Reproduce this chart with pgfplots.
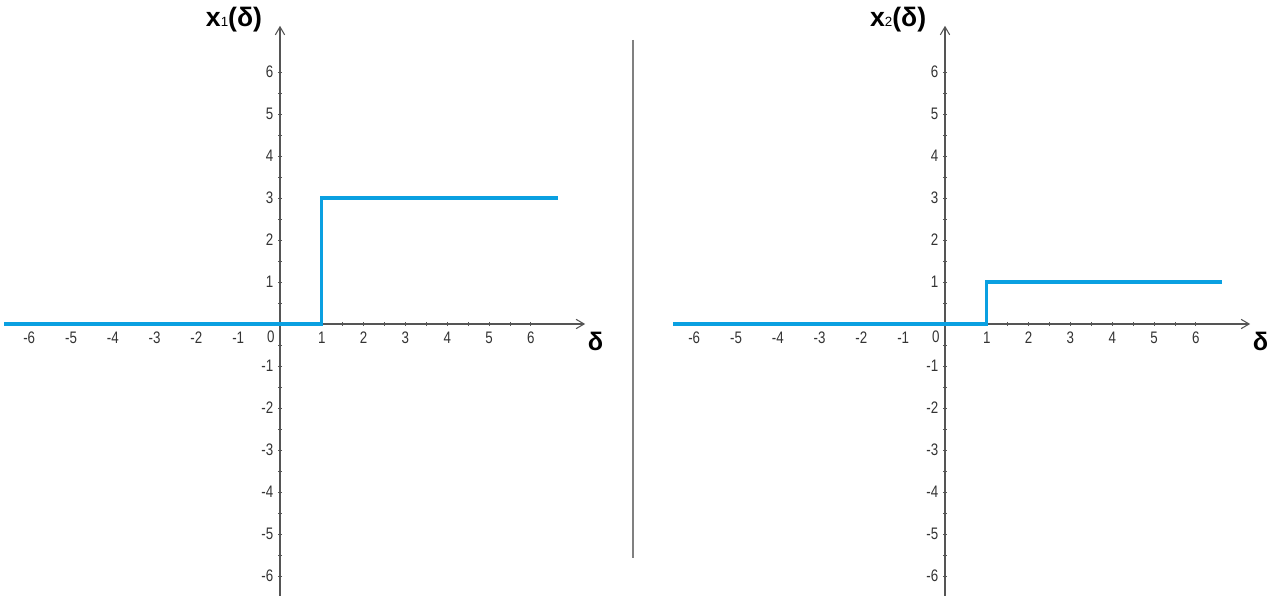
\documentclass[border=0pt]{standalone}
\usepackage{fontspec}
\setmainfont{Liberation Sans}
\newfontfamily\narrow[FakeStretch=0.8]{Liberation Sans}
\usepackage{pgfplots}
\pgfplotsset{compat=1.18}
\usetikzlibrary{arrows.meta}
\definecolor{lineblue}{RGB}{10,160,225}
\definecolor{axgray}{RGB}{85,85,85}
\pgfplotsset{
 myaxis/.style={
  axis lines=middle,
  x=31.35pt, y=31.5pt,
  anchor=origin,
  ymin=-6.5, ymax=7.1,
  xtick={-6,...,6}, ytick={-6,...,6},
  minor tick num=1,
  axis line style={axgray, line width=0.8pt, -{Straight Barb[length=6pt,width=7pt]}},
  tick style={axgray, line width=0.6pt},
  major tick length=3pt, minor tick length=3pt,
  tick label style={font=\narrow\fontsize{12.5}{14}\selectfont, text=black!80},
  xticklabel style={yshift=-1pt},
  /pgf/number format/assume math mode=true,
  clip=false,
 }
}
\begin{document}
\begin{tikzpicture}
\path[use as bounding box] (0,0) rectangle (958.5pt,447pt);
% left
\begin{axis}[myaxis, at={(210pt,204pt)}, xmin=-6.6, xmax=7.3]
\addplot[lineblue, line width=2.5pt] coordinates {(-6.6,0) (1,0) (1,3) (6.65,3)};
\node[font=\narrow\fontsize{12.5}{14}\selectfont, text=black!80] at (axis cs:-0.22,-0.3) {0};
\node[font=\bfseries\fontsize{19}{21}\selectfont] at (axis cs:7.55,-0.42) {δ};
\node[font=\bfseries\fontsize{20}{22}\selectfont] at (axis cs:-1.1,7.24) {x{\mdseries\fontsize{10}{11}\selectfont 1}(δ)};
\end{axis}
% right
\begin{axis}[myaxis, at={(708.75pt,204pt)}, xmin=-6.5, xmax=7.3]
\addplot[lineblue, line width=2.5pt] coordinates {(-6.5,0) (1,0) (1,1) (6.62,1)};
\node[font=\narrow\fontsize{12.5}{14}\selectfont, text=black!80] at (axis cs:-0.22,-0.3) {0};
\node[font=\bfseries\fontsize{19}{21}\selectfont] at (axis cs:7.55,-0.42) {δ};
\node[font=\bfseries\fontsize{20}{22}\selectfont] at (axis cs:-1.12,7.24) {x{\mdseries\fontsize{10}{11}\selectfont 2}(δ)};
\end{axis}
\draw[gray, line width=1pt] (474.75pt,417pt) -- (474.75pt,28.5pt);
\end{tikzpicture}
\end{document}
